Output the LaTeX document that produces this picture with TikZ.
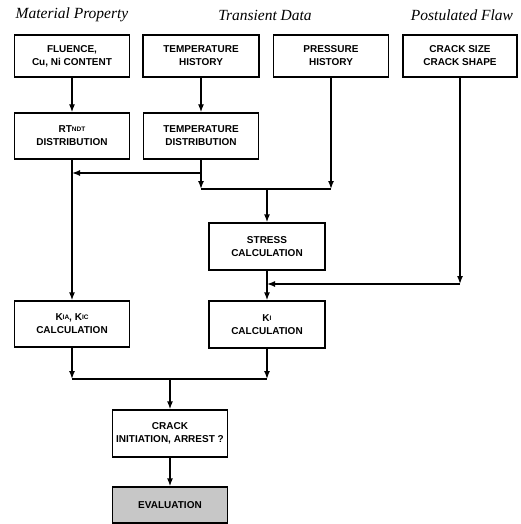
\documentclass[tikz,border=0pt]{standalone}
\usepackage{fontspec}
\setmainfont{Liberation Sans}
\newfontfamily\hdrfont{Liberation Serif}
\usetikzlibrary{arrows.meta}
\tikzset{
  box/.style={draw, line width=1.4pt, minimum width=115pt, minimum height=44pt, align=center, inner sep=1pt,
    font=\bfseries\fontsize{10}{13}\selectfont},
  hdr/.style={font=\hdrfont\itshape\fontsize{15.5}{18}\selectfont, inner sep=0pt},
  conn/.style={line width=1.4pt},
  arr/.style={conn, -{Latex[length=8pt,width=6pt]}},
}
\newcommand{\sbs}[1]{\raisebox{0.2ex}{\fontsize{6.5}{7}\selectfont #1}}
\begin{document}
\begin{tikzpicture}[x=1pt,y=-1pt]
\useasboundingbox (0,0) rectangle (521,524);
\node[hdr] (h1) at (72,15) {Material Property};
\node[hdr] (h2) at (265,15) {Transient Data};
\node[hdr] (h3) at (462,15) {Postulated Flaw};

\node[box, minimum height=42pt] (A) at (72,56) {FLUENCE,\\Cu, Ni CONTENT};
\node[box, minimum height=42pt, minimum width=116pt] (B) at (201,56) {TEMPERATURE\\HISTORY};
\node[box, minimum height=42pt] (C) at (331,56) {PRESSURE\\HISTORY};
\node[box, minimum height=42pt, minimum width=114pt] (D) at (460,56) {CRACK SIZE\\CRACK SHAPE};

\node[box, minimum height=46pt] (RT) at (72,136) {RT\sbs{NDT}\\DISTRIBUTION};
\node[box, minimum height=46pt] (TD) at (201,136) {TEMPERATURE\\DISTRIBUTION};

\node[box, minimum height=47pt, minimum width=116pt] (ST) at (267,246.5) {STRESS\\CALCULATION};

\node[box, minimum height=46pt] (KA) at (72,324) {K\sbs{IA}, K\sbs{IC}\\CALCULATION};
\node[box, minimum height=47pt, minimum width=116pt] (KI) at (267,324.5) {K\sbs{I}\\CALCULATION};

\node[box, minimum height=47pt] (CI) at (170,433.5) {CRACK\\INITIATION, ARREST ?};
\node[box, minimum height=36pt, fill=black!22] (EV) at (170,505) {EVALUATION};

\coordinate (tdj) at (201,189);
\coordinate (prj) at (331,189);
\coordinate (stj) at (267,189);
\coordinate (tdl) at (201,173);
\coordinate (rtl) at (72,173);
\coordinate (crj) at (460,284);
\coordinate (kij) at (267,284);
\coordinate (kab) at (72,379);
\coordinate (kib) at (267,379);
\coordinate (cij) at (170,379);

\draw[arr] (A) -- (RT);
\draw[arr] (B) -- (TD);
\draw[arr] (TD.south) -- (tdj);
\draw[arr] (C.south) -- (prj);
\draw[conn] (tdj) -- (prj);
\draw[arr] (stj) -- (ST.north);
\draw[arr] (tdl) -- (rtl);
\draw[arr] (RT.south) -- (KA.north);
\draw[arr] (D.south) -- (crj);
\draw[arr] (crj) -- (kij);
\draw[arr] (ST.south) -- (KI.north);
\draw[arr] (KA.south) -- (kab);
\draw[arr] (KI.south) -- (kib);
\draw[conn] (kab) -- (kib);
\draw[arr] (cij) -- (CI.north);
\draw[arr] (CI.south) -- (EV.north);
\end{tikzpicture}
\end{document}
